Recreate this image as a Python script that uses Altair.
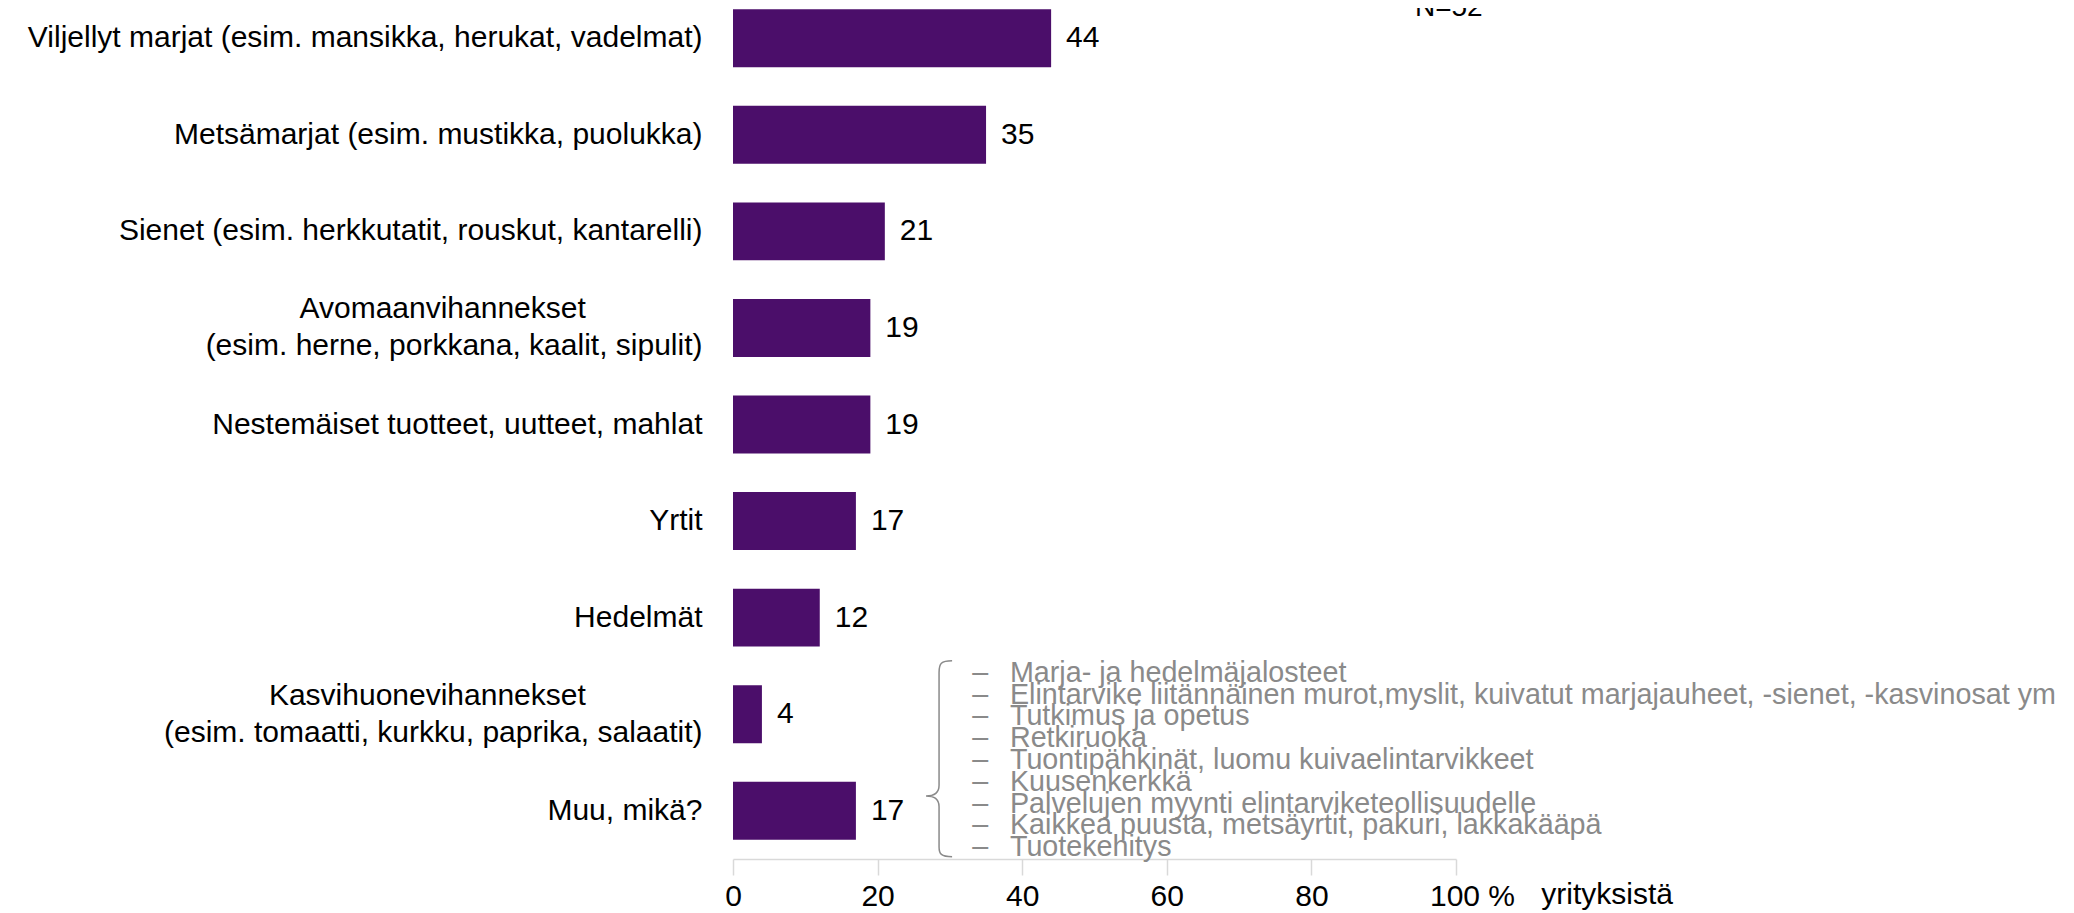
import altair as alt
import pandas as pd

categories = [
    "Viljellyt marjat (esim. mansikka, herukat, vadelmat)",
    "Metsämarjat (esim. mustikka, puolukka)",
    "Sienet (esim. herkkutatit, rouskut, kantarelli)",
    "Avomaanvihannekset|(esim. herne, porkkana, kaalit, sipulit)",
    "Nestemäiset tuotteet, uutteet, mahlat",
    "Yrtit",
    "Hedelmät",
    "Kasvihuonevihannekset|(esim. tomaatti, kurkku, paprika, salaatit)",
    "Muu, mikä?",
]
values = [44, 35, 21, 19, 19, 17, 12, 4, 17]
other_answers = [
    "Marja- ja hedelmäjalosteet",
    "Elintarvike liitännäinen murot,myslit, kuivatut marjajauheet, -sienet, -kasvinosat ym",
    "Tutkimus ja opetus",
    "Retkiruoka",
    "Tuontipähkinät, luomu kuivaelintarvikkeet",
    "Kuusenkerkkä",
    "Palvelujen myynti elintarviketeollisuudelle",
    "Kaikkea puusta, metsäyrtit, pakuri, lakkakääpä",
    "Tuotekehitys",
]
x_ticks = [0, 20, 40, 60, 80, 100]
n_label = "N=52"
x_title = "yrityksistä"

FONT = "Liberation Sans, sans-serif"
PURPLE = "#4B0E6A"
GRAY = "#8a8a8a"
NBSP = "\u00a0"
ZWSP = "\u200b"


def centered(label):
    # two-line labels: pad the shorter first line so the lines look centred on each other
    parts = label.split("|")
    if len(parts) == 2:
        n = round((len(parts[1]) - len(parts[0])) * 0.62)
        return parts[0] + NBSP * max(n, 0) + ZWSP + "|" + parts[1]
    return label


display_cats = [centered(c) for c in categories]
df = pd.DataFrame({"cat": display_cats, "val": values})

yenc = alt.Y(
    "cat:N",
    sort=display_cats,
    scale=alt.Scale(paddingInner=0.4, paddingOuter=0.2),
    axis=alt.Axis(
        title=None, domain=False, ticks=False, labelFontSize=30,
        labelPadding=31, labelExpr="split(datum.label, '|')",
        labelLineHeight=37, labelLimit=0, labelColor="black", labelFont=FONT,
        labelOffset={"condition": {"test": "indexof(datum.value, '|') >= 0", "value": -18.5}, "value": 0},
    ),
)
xenc = alt.X(
    "val:Q",
    scale=alt.Scale(domain=[0, 100], nice=False),
    axis=alt.Axis(
        title=None, values=x_ticks, grid=False, domainColor="#d9d9d9",
        domainWidth=1.5, tickColor="#d9d9d9", tickWidth=1.5, tickSize=16,
        labelFontSize=30, labelColor="black", labelPadding=6, labelFont=FONT,
        labelFlush=False,
        labelExpr="datum.value == 100 ? '100 %' : datum.label",
        labelOffset={"condition": {"test": "datum.value == 100", "value": 16}, "value": 0},
    ),
)

bars = alt.Chart(df).mark_bar(color=PURPLE).encode(x=xenc, y=yenc)
labels = alt.Chart(df).mark_text(
    align="left", baseline="middle", dx=15, fontSize=30, font=FONT, color="black"
).encode(x="val:Q", y=alt.Y("cat:N", sort=display_cats), text="val:Q")

last_cat = display_cats[-1]
ann_df = pd.DataFrame({"cat": [last_cat],
                       "lines": [["–" + NBSP * 2 + "\u2009" + s for s in other_answers]]})
ann = alt.Chart(ann_df).mark_text(
    align="left", baseline="middle", fontSize=28.7, font=FONT, color=GRAY,
    lineHeight=21.8, yOffset=-138,
).encode(x=alt.datum(33.1), y=alt.Y("cat:N", sort=display_cats), text="lines")

brace_path = ("M 0.133,-1 C 0.02,-1 0,-0.97 0,-0.88 L 0,0.27 C 0,0.35 -0.05,0.38 -0.133,0.38 "
              "C -0.05,0.38 0,0.41 0,0.49 L 0,0.9 C 0,0.97 0.02,1 0.133,1")
brace = alt.Chart(ann_df).mark_point(
    shape=brace_path, size=196 * 196, filled=False, stroke=GRAY, strokeWidth=1.5,
    opacity=1, yOffset=-52,
).encode(x=alt.datum(28.5), y=alt.Y("cat:N", sort=display_cats))

nlab = alt.Chart(pd.DataFrame({"t": [n_label]})).mark_text(
    align="center", baseline="alphabetic", fontSize=28, font=FONT, color="black"
).encode(x=alt.datum(99), y=alt.value(26), text="t:N")

xtitle = alt.Chart(pd.DataFrame({"t": [x_title]})).mark_text(
    align="left", baseline="middle", fontSize=30, font=FONT, color="black"
).encode(x=alt.datum(111.8), y=alt.value(905), text="t:N")

chart = alt.layer(bars, labels, brace, ann, nlab, xtitle).properties(
    width=723, height=869,
    autosize=alt.AutoSizeParams(type="none"),
    padding={"left": 725, "top": -18, "right": 610, "bottom": 60},
).configure_view(stroke=None)

chart.save("out.html", embed_options={"renderer": "svg", "actions": False})
